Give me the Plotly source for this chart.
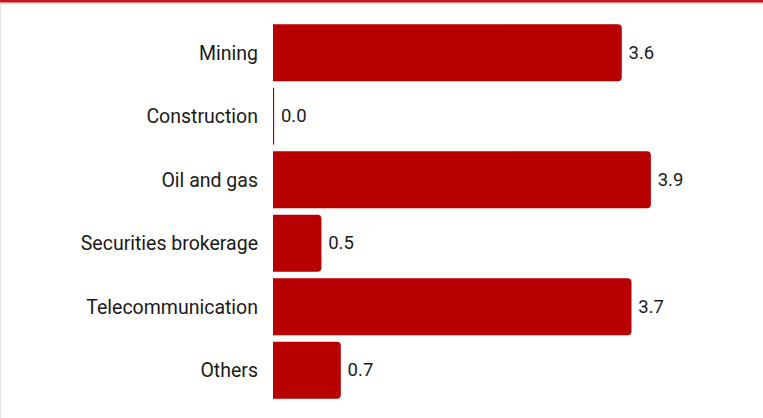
import plotly.graph_objects as go

categories = ["Mining", "Construction", "Oil and gas", "Securities brokerage", "Telecommunication", "Others"]
values = [3.6, 0.012, 3.9, 0.5, 3.7, 0.7]

BAR_COLOR = "#b80000"
TEXT_COLOR = "#1a1a1a"

PLOT_W = 763 - 273 - 54
PLOT_H = 418 - 21 - 16

fig = go.Figure(
    go.Bar(
        x=values,
        y=categories,
        orientation="h",
        marker=dict(color=BAR_COLOR, line=dict(width=0)),
        width=0.9,
        text=values,
        texttemplate="\u2009%{x:.1f}",
        textposition="outside",
        cliponaxis=False,
        textfont=dict(family="Roboto", size=18.5, color=TEXT_COLOR),
        hoverinfo="skip",
    )
)

fig.update_layout(
    width=763,
    height=418,
    margin=dict(l=273, r=54, t=21, b=16),
    paper_bgcolor="white",
    plot_bgcolor="white",
    showlegend=False,
    barcornerradius=4,
    font=dict(family="Roboto", size=19, color=TEXT_COLOR),
    xaxis=dict(range=[0, 4.5], visible=False, fixedrange=True),
    yaxis=dict(
        autorange="reversed",
        showgrid=False,
        zeroline=False,
        showline=False,
        ticks="",
        ticklabelstandoff=14,
        tickfont=dict(family="Roboto", size=19.5, color=TEXT_COLOR),
        fixedrange=True,
    ),
    shapes=[
        dict(type="rect", xref="paper", yref="paper", x0=-273/PLOT_W, x1=(763-273)/PLOT_W,
             y0=1 + 17/PLOT_H, y1=1 + 18.5/PLOT_H, fillcolor="#e0e0e0", line=dict(width=0)),
        dict(type="rect", xref="paper", yref="paper", x0=-273/PLOT_W, x1=(763-273)/PLOT_W,
             y0=1 + 18.5/PLOT_H, y1=1 + 21.5/PLOT_H, fillcolor="#c8161d", line=dict(width=0)),
        dict(type="line", xref="paper", yref="paper", x0=-272.5/PLOT_W, x1=-272.5/PLOT_W,
             y0=-16/PLOT_H, y1=1 + 17/PLOT_H, line=dict(color="#e4e4e4", width=1)),
    ],
)

fig.write_html(
    "out.html",
    config={"displayModeBar": False, "staticPlot": True},
    post_script="document.body.style.margin='0';document.body.style.overflow='hidden';",
)
